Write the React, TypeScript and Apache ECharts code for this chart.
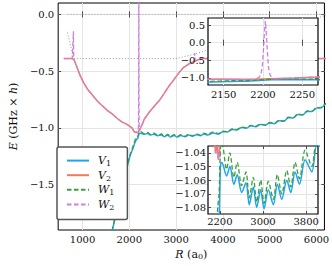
import React, { useEffect, useRef } from "react";
import * as echarts from "echarts";

// ---------- data (R in a0, E in GHz x h) ----------
const V1_R = [1600, 1650, 1700, 1750, 1800, 1850, 1900, 1950, 2000, 2040, 2080, 2130, 2160, 2185, 2200, 2212, 2235, 2261, 2325, 2386, 2460, 2522, 2604, 2684, 2745, 2820, 2883, 2957, 3019, 3099, 3192, 3266, 3348, 3441, 3515, 3595, 3676, 3781, 3906, 4000, 4100, 4200, 4300, 4400, 4500, 4600, 4700, 4800, 4900, 5000, 5100, 5200, 5300, 5400, 5500, 5600, 5700, 5800, 5900, 6000, 6100, 6200];
const V1_E = [-1.98, -1.88, -1.79, -1.70, -1.61, -1.52, -1.43, -1.35, -1.27, -1.22, -1.18, -1.12, -1.10, -1.088, -1.066, -1.050, -1.047, -1.049, -1.057, -1.050, -1.063, -1.056, -1.069, -1.062, -1.078, -1.065, -1.080, -1.067, -1.081, -1.067, -1.078, -1.063, -1.074, -1.060, -1.069, -1.054, -1.063, -1.045, -1.054, -1.034, -1.036, -1.014, -1.018, -0.997, -1.003, -0.982, -0.990, -0.970, -0.978, -0.957, -0.963, -0.938, -0.942, -0.910, -0.914, -0.882, -0.886, -0.855, -0.856, -0.826, -0.823, -0.786];

const W1_R = V1_R;
const W1_E = [-1.97, -1.87, -1.78, -1.69, -1.60, -1.51, -1.42, -1.34, -1.26, -1.21, -1.16, -1.10, -1.08, -1.07, -1.05, -1.036, -1.030, -1.036, -1.052, -1.040, -1.058, -1.047, -1.064, -1.054, -1.073, -1.058, -1.076, -1.060, -1.077, -1.061, -1.074, -1.056, -1.070, -1.053, -1.065, -1.047, -1.059, -1.038, -1.050, -1.030, -1.033, -1.010, -1.015, -0.993, -1.000, -0.978, -0.987, -0.966, -0.975, -0.953, -0.960, -0.934, -0.939, -0.906, -0.911, -0.878, -0.883, -0.851, -0.853, -0.822, -0.820, -0.782];

const V2_R = [600, 700, 780, 820, 876, 950, 1020, 1100, 1228, 1330, 1435, 1540, 1642, 1750, 1849, 1950, 2056, 2100, 2120, 2150, 2175, 2190, 2210, 2240, 2270, 2325, 2430, 2532, 2640, 2739, 2850, 2946, 3050, 3153, 3260, 3360, 3470, 3567, 3800, 4500, 5500, 6200];
const V2_E = [-0.39, -0.39, -0.39, -0.40, -0.46, -0.54, -0.60, -0.655, -0.72, -0.77, -0.81, -0.85, -0.88, -0.92, -0.95, -0.97, -1.00, -1.03, -1.04, -1.035, -1.045, -1.04, -1.02, -1.00, -0.975, -0.92, -0.86, -0.81, -0.76, -0.70, -0.63, -0.58, -0.52, -0.47, -0.44, -0.42, -0.40, -0.39, -0.39, -0.39, -0.39, -0.39];

const W2_R = [600, 700, 780, 795, 806, 812, 820, 876, 950, 1020, 1100, 1228, 1330, 1435, 1540, 1642, 1750, 1849, 1950, 2056, 2100, 2120, 2150, 2175, 2190, 2195, 2197, 2199, 2200, 2201, 2202, 2203, 2204, 2205, 2206, 2207, 2209, 2211, 2215, 2240, 2270, 2325, 2430, 2532, 2640, 2739, 2850, 2946, 3050, 3153, 3260, 3360, 3395, 3400, 3405, 3470, 3567, 3800, 4500, 5500, 6200];
const W2_E = [-0.39, -0.39, -0.39, -0.39, -0.15, -0.39, -0.40, -0.46, -0.54, -0.60, -0.655, -0.72, -0.77, -0.81, -0.85, -0.88, -0.92, -0.95, -0.97, -1.00, -1.035, -1.04, -1.04, -1.045, -1.04, -0.98, -0.92, -0.70, -0.40, -0.05, 0.35, 0.62, 0.35, -0.05, -0.40, -0.70, -0.92, -0.98, -1.03, -1.00, -0.975, -0.92, -0.86, -0.81, -0.76, -0.70, -0.63, -0.58, -0.52, -0.47, -0.44, -0.42, -0.41, -0.34, -0.41, -0.40, -0.39, -0.39, -0.39, -0.39, -0.39];

// thresholds (gray dotted)
const T0_R = [680, 6200];
const T0_E = [0.0, 0.0];
const T1_R = [680, 810, 3000, 3100, 3400, 3700, 4500, 5300, 6030, 6200];
const T1_E = [-0.16, -0.39, -0.39, -0.38, -0.35, -0.31, -0.22, -0.13, -0.03, -0.01];

// axes ticks
const MAIN_X_TICKS = [1000, 2000, 3000, 4000, 5000, 6000];
const MAIN_Y_TICKS = [-1.5, -1.0, -0.5, 0.0];
const IN1_X_TICKS = [2150, 2200, 2250];
const IN1_Y_TICKS = [-1.0, -0.5, 0.0, 0.5];
const IN2_X_TICKS = [2200, 3000, 3800];
const IN2_Y_TICKS = [-1.08, -1.07, -1.06, -1.05, -1.04];

const NAMES = ["V1", "V2", "W1", "W2"];
const COLORS = ["#1fa4ee", "#f07a5c", "#3c9e3c", "#cf7fe0"];

const FONT = "DejaVu Serif";
const zip = (r: number[], e: number[]) => r.map((x, i) => [x, e[i]]);
const fmt = (d: number) => (v: number) => v.toFixed(d).replace("-", "\u2212");

function axis(dir: "x" | "y", grid: number, min: number, max: number, ticks: number[], digits: number, primary: boolean, z: number, margin: number, fontSize: number) {
  return {
    type: "value",
    gridIndex: grid,
    min,
    max,
    z,
    position: dir === "x" ? (primary ? "bottom" : "top") : primary ? "left" : "right",
    axisLine: { show: false },
    axisTick: { show: true, inside: true, length: 3, customValues: ticks, lineStyle: { color: "#222", width: 0.8 } },
    axisLabel: { show: primary, customValues: ticks, margin, fontFamily: FONT, fontSize, color: "#111", formatter: fmt(digits) },
    splitLine: { show: primary, lineStyle: { color: "#e4e4e4", width: 1 } },
  };
}

function seriesFor(gi: number, z: number) {
  const sets = [zip(V1_R, V1_E), zip(V2_R, V2_E), zip(W1_R, W1_E), zip(W2_R, W2_E)];
  return sets.map((d, i) => ({
    type: "line",
    name: NAMES[i],
    xAxisIndex: gi,
    yAxisIndex: gi,
    data: d,
    symbol: "none",
    z,
    smooth: i === 0 || i === 2 ? 0.3 : false,
    silent: true,
    lineStyle: {
      color: COLORS[i],
      width: i < 2 ? 1.5 : 1.3,
      type: i < 2 ? "solid" : [4.5, 2.5],
    },
    itemStyle: { color: COLORS[i] },
  }));
}

export default function App() {
  const ref = useRef<HTMLDivElement>(null);
  useEffect(() => {
    const chart = echarts.init(ref.current!, null, { renderer: "svg" });
    const option: any = {
      animation: false,
      backgroundColor: "#fff",
      grid: [
        { left: 51, top: 3, width: 275, height: 227, show: true, borderColor: "#000", borderWidth: 1, backgroundColor: "#fff", z: 0 },
        { left: 208, top: 18, width: 110, height: 67, show: true, borderColor: "#000", borderWidth: 1.2, backgroundColor: "#fff", z: 10 },
        { left: 208, top: 146, width: 110, height: 68, show: true, borderColor: "#000", borderWidth: 1.2, backgroundColor: "#fff", z: 10 },
      ],
      xAxis: [
        {
          ...axis("x", 0, 480, 6170, MAIN_X_TICKS, 0, true, 0, 4, 10),
          name: "{i|R} (a{s|0})",
          nameLocation: "middle",
          nameGap: 15,
          nameTextStyle: {
            fontFamily: FONT, fontSize: 11, color: "#111",
            rich: {
              i: { fontFamily: FONT, fontStyle: "italic", fontSize: 11, color: "#111", lineHeight: 13 },
              s: { fontFamily: FONT, fontSize: 8, color: "#111", lineHeight: 8, verticalAlign: "bottom" },
            },
          },
        },
        axis("x", 0, 480, 6170, MAIN_X_TICKS, 0, false, 0, 4, 10),
        axis("x", 1, 2130, 2270, IN1_X_TICKS, 0, true, 11, 4, 10),
        axis("x", 1, 2130, 2270, IN1_X_TICKS, 0, false, 11, 4, 10),
        axis("x", 2, 1980, 4020, IN2_X_TICKS, 0, true, 11, 2, 10),
        axis("x", 2, 1980, 4020, IN2_X_TICKS, 0, false, 11, 2, 10),
      ],
      yAxis: [
        {
          ...axis("y", 0, -1.9, 0.1, MAIN_Y_TICKS, 1, true, 0, 4, 10),
          name: "{i|E} (GHz \u00d7 {i|h})",
          nameLocation: "middle",
          nameGap: 33,
          nameTextStyle: {
            fontFamily: FONT, fontSize: 11, color: "#111",
            rich: { i: { fontFamily: FONT, fontStyle: "italic", fontSize: 11, color: "#111" } },
          },
        },
        axis("y", 0, -1.9, 0.1, MAIN_Y_TICKS, 1, false, 0, 4, 10),
        axis("y", 1, -1.2, 0.7, IN1_Y_TICKS, 1, true, 11, 3, 10),
        axis("y", 1, -1.2, 0.7, IN1_Y_TICKS, 1, false, 11, 3, 10),
        axis("y", 2, -1.0848, -1.035, IN2_Y_TICKS, 2, true, 11, 2, 10),
        axis("y", 2, -1.0848, -1.035, IN2_Y_TICKS, 2, false, 11, 2, 10),
      ],
      legend: {
        data: NAMES,
        orient: "vertical",
        left: 57,
        top: 147,
        padding: [8, 13, 8, 9],
        itemWidth: 22,
        itemHeight: 14,
        itemGap: 2,
        backgroundColor: "#fff",
        borderColor: "#555",
        borderWidth: 1.5,
        borderRadius: 2,
        z: 20,
        selectedMode: false,
        itemStyle: { color: "rgba(0,0,0,0)", borderWidth: 0, borderColor: "rgba(0,0,0,0)" },
        formatter: (n: string) => `{i|${n[0]}}{s|${n[1]}}`,
        textStyle: {
          padding: [0, 0, 0, 4],
          rich: {
            i: { fontFamily: FONT, fontStyle: "italic", fontSize: 11, color: "#111", lineHeight: 14 },
            s: { fontFamily: FONT, fontSize: 8, color: "#111", lineHeight: 8, verticalAlign: "bottom" },
          },
        },
      },
      series: [
        {
          type: "line", name: "T0", xAxisIndex: 0, yAxisIndex: 0, data: zip(T0_R, T0_E), symbol: "none", z: 1, silent: true,
          lineStyle: { color: "#999", width: 1, type: [1, 2] },
        },
        {
          type: "line", name: "T1", xAxisIndex: 0, yAxisIndex: 0, data: zip(T1_R, T1_E), symbol: "none", z: 1, silent: true,
          lineStyle: { color: "#999", width: 1, type: [1, 2] },
        },
        ...seriesFor(0, 2),
        ...seriesFor(2, 12),
        ...seriesFor(4, 12),
      ],
    };
    chart.setOption(option);
    return () => chart.dispose();
  }, []);
  return <div ref={ref} style={{ position: "fixed", left: 0, top: 0, width: 332, height: 266, background: "#fff" }} />;
}
